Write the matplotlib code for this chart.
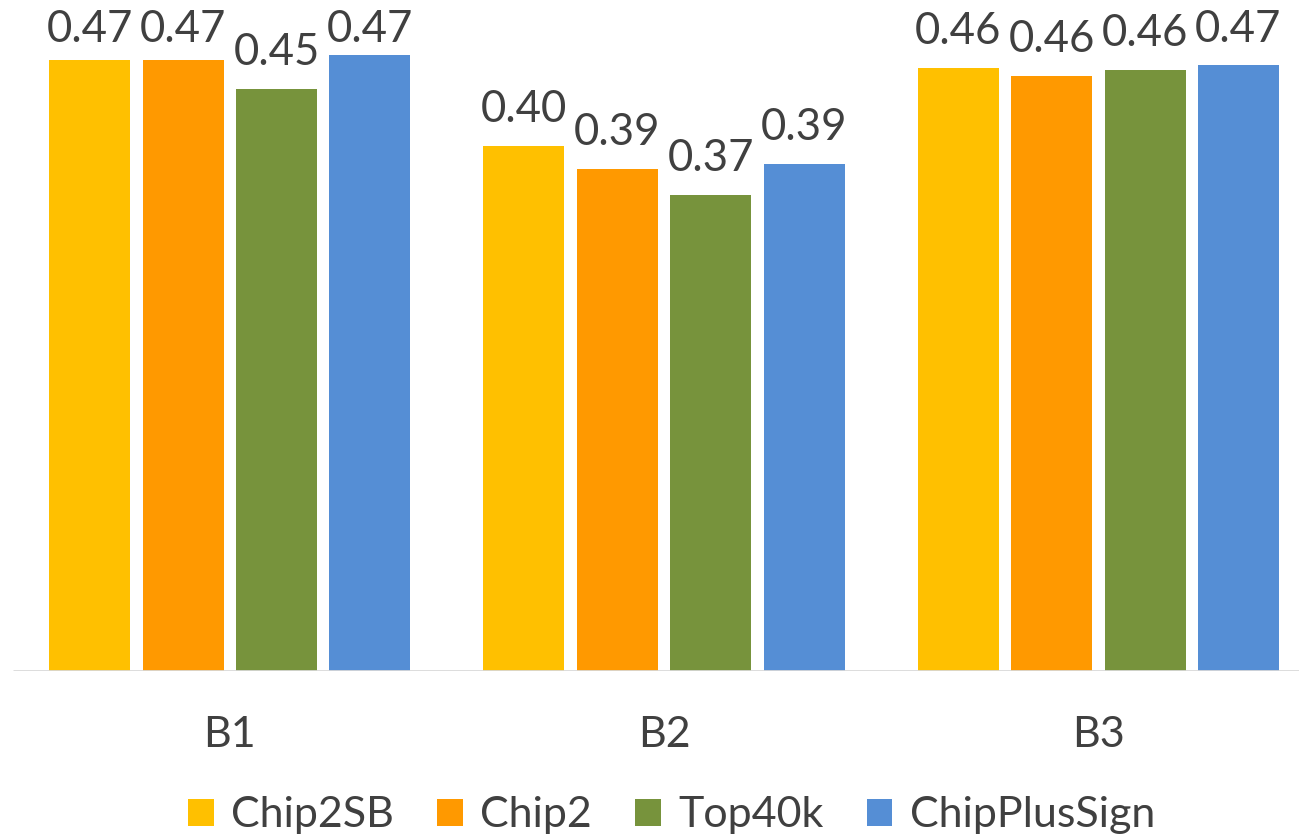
import matplotlib
matplotlib.use('Agg')
from matplotlib import pyplot as plt
from matplotlib.patches import Patch
import numpy as np

categories = ['B1', 'B2', 'B3']
series = ['Chip2SB', 'Chip2', 'Top40k', 'ChipPlusSign']
chip2sb = [0.470, 0.404, 0.464]
chip2 = [0.470, 0.386, 0.458]
top40k = [0.448, 0.366, 0.462]
chipplussign = [0.474, 0.390, 0.466]

colors = ['#FFC000', '#FF9900', '#77933C', '#558ED5']
text_color = '#404040'

plt.rcParams['font.family'] = ['Lato', 'DejaVu Sans']

W, H = 1299, 838
fig = plt.figure(figsize=(W / 100, H / 100), dpi=100)
base = 671
px_per_unit = 1300
ax = fig.add_axes([0, (H - base) / H, 1, base / H])

x = np.arange(len(categories))
step = 0.215
width = 0.1865
gap = 24 / px_per_unit                  # label baseline above bar top
label_max = (base - 42) / px_per_unit   # keep labels inside the chart area
for i, (name, vals) in enumerate(zip(series, [chip2sb, chip2, top40k, chipplussign])):
    pos = x + (i - 1.5) * step
    ax.bar(pos, vals, width, color=colors[i], label=name)
    for px, v in zip(pos, vals):
        ax.text(px, min(v + gap, label_max), '{:.2f}'.format(v),
                ha='center', va='baseline', fontsize=31.5, color=text_color)

ax.set_xlim(-0.529, 2.462)
ax.set_ylim(0, base / px_per_unit)
ax.hlines(0, -0.5, 2.6, color='#D9D9D9', lw=2, clip_on=True, zorder=3)
ax.axis('off')

for xi, cat in zip(x, categories):
    ax.annotate(cat, (xi, 0), (0, -55), textcoords='offset points',
                ha='center', va='baseline', fontsize=31, color=text_color)

handles = [Patch(facecolor=c, label=s) for c, s in zip(colors, series)]
fig.legend(handles=handles, loc='lower center', bbox_to_anchor=(0.517, -0.042),
           ncol=4, frameon=False, fontsize=31, labelcolor=text_color,
           handlelength=0.6, handleheight=0.6, handletextpad=0.4,
           columnspacing=1.0)

fig.savefig('out.png', dpi=100)
